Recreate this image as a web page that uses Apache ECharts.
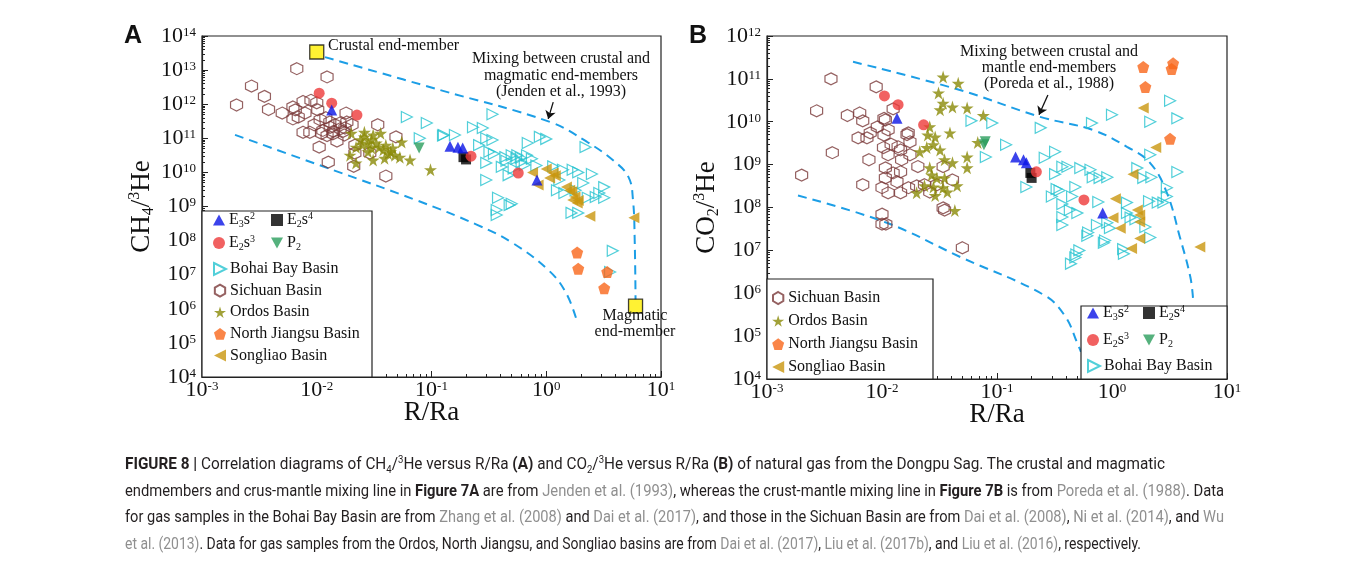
<!DOCTYPE html>
<html>
<head>
<meta charset="utf-8">
<script src="https://cdn.jsdelivr.net/npm/echarts@6/dist/echarts.min.js"></script>
<style>
  body { margin: 0; background: #fff; }
  #main { position: absolute; left: 0; top: 0; width: 1355px; height: 562px; }
  #cap { position: absolute; left: 125px; top: 451px; color: #231f20;
         font-family: 'Liberation Sans Narrow', 'Roboto', 'Liberation Sans', Arial, sans-serif;
         font-size: 16px; line-height: 26.6px; }
  #cap div { white-space: nowrap; transform-origin: 0 50%; display: block; width: max-content; }
  #cap .g { color: #8f8f8f; }
  #cap sub, #cap sup { font-size: 10px; line-height: 0; }
</style>
</head>
<body>
<div id="main"></div>
<div id="cap">
  <div data-w="1040"><b>FIGURE 8 |</b> Correlation diagrams of CH<sub>4</sub>/<sup>3</sup>He versus R/Ra <b>(A)</b> and CO<sub>2</sub>/<sup>3</sup>He versus R/Ra <b>(B)</b> of natural gas from the Dongpu Sag. The crustal and magmatic</div>
  <div data-w="1099">endmembers and crus-mantle mixing line in <b>Figure 7A</b> are from <span class="g">Jenden et al. (1993)</span>, whereas the crust-mantle mixing line in <b>Figure 7B</b> is from <span class="g">Poreda et al. (1988)</span>. Data</div>
  <div data-w="1099">for gas samples in the Bohai Bay Basin are from <span class="g">Zhang et al. (2008)</span> and <span class="g">Dai et al. (2017)</span>, and those in the Sichuan Basin are from <span class="g">Dai et al. (2008)</span>, <span class="g">Ni et al. (2014)</span>, and <span class="g">Wu</span></div>
  <div data-w="1016"><span class="g">et al. (2013)</span>. Data for gas samples from the Ordos, North Jiangsu, and Songliao basins are from <span class="g">Dai et al. (2017)</span>, <span class="g">Liu et al. (2017b)</span>, and <span class="g">Liu et al. (2016)</span>, respectively.</div>
</div>
<script>
// ---- panel A : CH4/3He vs R/Ra, points are [R/Ra, CH4/3He]
var A_E3s2 = [[0.0135, 6.8e11], [0.145, 5.8e10], [0.17, 5.5e10], [0.187, 5.2e10], [0.83, 6e9]];
var A_E2s4 = [[0.19, 2.8e10], [0.2, 2.4e10]];
var A_E2s3 = [[0.0105, 2.1e12], [0.0135, 1.07e12], [0.0224, 4.8e11], [0.221, 3e10], [0.57, 9.6e9]];
var A_P2 = [[0.078, 5.2e10]];
var A_bohai = [
  [0.061, 4.2e11], [0.091, 2.8e11], [0.079, 1e11], [0.128, 1.25e11], [0.16, 1.25e11], [0.126, 1.2e11],
  [0.34, 5.1e11], [0.23, 2.1e11], [0.28, 2e11], [0.30, 1e11], [0.34, 8.9e10], [0.26, 6.3e10], [0.32, 4e10],
  [0.30, 1.9e10], [0.44, 2.8e10], [0.41, 1.45e10], [0.50, 3.2e10], [0.56, 3.2e10], [0.68, 3.2e10],
  [0.61, 2e10], [0.65, 1.65e10], [0.47, 8.3e9], [0.30, 6e9], [0.38, 1.8e9], [0.48, 1.1e9], [0.37, 7.9e8],
  [0.37, 5.6e8], [0.69, 7.3e10], [0.88, 1.1e11], [1.0, 9.6e10], [2.2, 5.5e10], [1.4, 1.2e10], [1.7, 1.2e10],
  [1.9, 1e10], [1.24, 3e9], [1.44, 2.5e9], [2.1, 4.9e9], [3.2, 3.7e9], [2.3, 1.8e9], [2.7, 1.9e9],
  [3.2, 1.8e9], [1.66, 6.5e8], [1.9, 6.5e8], [3.8, 5e7], [3.6, 1.2e7], [0.45, 2.2e10], [0.55, 2.5e10],
  [0.6, 2.7e10], [0.35, 3.5e10], [0.52, 1.3e10], [0.75, 2.5e10], [0.82, 1.6e10], [1.15, 1.5e10],
  [1.3, 6e9], [2.5, 9e9], [1.8, 3e9], [2.9, 2.5e9], [0.5, 1.2e9]
];
var A_sichuan = [
  [0.0020, 9.5e11], [0.0027, 3.4e12], [0.0035, 1.7e12], [0.0038, 7e11], [0.005, 5.5e11], [0.0062, 3.7e11],
  [0.0067, 1.1e13], [0.0123, 6.3e12], [0.0062, 8.3e11], [0.0076, 1.2e12], [0.0089, 1.3e12], [0.010, 1.1e12],
  [0.0079, 5.5e11], [0.0102, 6.8e11], [0.0076, 1.5e11], [0.0087, 1.5e11], [0.0107, 3.5e11], [0.0113, 1.7e11],
  [0.0131, 2.1e11], [0.0144, 2.5e11], [0.0159, 2.8e11], [0.0183, 3e11], [0.0176, 2e11], [0.0138, 1.35e11],
  [0.0123, 1.2e11], [0.015, 8.3e10], [0.0174, 1.25e11], [0.0203, 2.5e11], [0.018, 5.5e11], [0.0105, 5.5e10],
  [0.0126, 2e10], [0.021, 1.5e10], [0.0215, 3.7e10], [0.029, 3.7e10], [0.034, 2.5e11], [0.040, 7.8e9],
  [0.0215, 6.3e10], [0.0069, 4.2e11], [0.0065, 6.8e11], [0.012, 4e11], [0.014, 1.6e11], [0.016, 1.9e11],
  [0.0095, 2.5e11], [0.011, 1.4e11], [0.017, 1.6e11], [0.013, 3e11], [0.049, 1.1e11]
];
var A_ordos = [
  [0.020, 1.4e11], [0.026, 1.5e11], [0.031, 1.25e11], [0.036, 1.4e11], [0.024, 9e10], [0.028, 7.3e10],
  [0.033, 7.3e10], [0.040, 6.3e10], [0.046, 5.2e10], [0.055, 7.8e10], [0.053, 2.8e10], [0.065, 2.3e10],
  [0.039, 2.6e10], [0.031, 2.3e10], [0.028, 4e10], [0.0195, 3.2e10], [0.022, 1.9e10], [0.098, 1.2e10],
  [0.022, 5.5e10], [0.044, 4e10], [0.048, 3.2e10], [0.038, 4.6e10], [0.030, 5.2e10], [0.026, 1.1e11],
  [0.035, 5.5e10], [0.042, 3.5e10], [0.025, 6.5e10], [0.03, 9e10]
];
var A_njiangsu = [[1.86, 4.5e7], [1.9, 1.5e7], [3.4, 1.2e7], [3.2, 4e6]];
var A_songliao = [
  [0.76, 1e10], [1.0, 1.25e10], [1.15, 9.6e9], [0.85, 4.3e9], [1.5, 3.7e9], [1.67, 2.7e9], [1.78, 1.9e9],
  [1.86, 1.26e9], [1.7, 1.55e9], [2.4, 5.2e8], [5.8, 4.7e8], [1.07, 6.9e9], [1.2, 8e9], [1.6, 3e9], [1.9, 1.5e9]
];
var A_endMembers = [[0.010, 3.4e13], [6.0, 1.2e6]];
// Jenden et al. (1993) mixing envelope
var A_upperR = [0.0118, 0.119, 1.08, 2.27, 3.8, 5.2, 5.7, 5.9, 6.0];
var A_upperCH4 = [2.4e13, 2.6e12, 3e11, 7.8e10, 2.3e10, 7.4e9, 1.55e9, 1e8, 1.8e6];
var A_lowerR = [0.00194, 0.0139, 0.073, 0.25, 0.51, 1.06, 1.49, 1.85];
var A_lowerCH4 = [1.26e11, 1.17e10, 1.55e9, 2.9e8, 8.5e7, 1.3e7, 2.9e6, 4.4e5];

// ---- panel B : CO2/3He vs R/Ra
var B_E3s2 = [[0.0135, 1.2e10], [0.145, 1.5e9], [0.17, 1.3e9], [0.18, 1.1e9], [0.83, 7.4e7]];
var B_E2s4 = [[0.195, 6.4e8], [0.2, 4.9e8]];
var B_E2s3 = [[0.0105, 4e10], [0.0138, 2.5e10], [0.023, 8.5e9], [0.22, 6.8e8], [0.57, 1.5e8]];
var B_P2 = [[0.079, 3.4e9], [0.077, 2.9e9]];
var B_bohai = [
  [0.060, 1.05e10], [0.091, 9.3e9], [0.080, 1.5e9], [0.12, 2.9e9], [0.24, 7.2e9], [0.67, 9.3e9], [1.0, 1.45e10],
  [2.15, 1e10], [3.2, 3.1e10], [3.7, 1.2e10], [0.26, 1.45e9], [0.32, 2e9], [0.32, 6e8], [0.37, 8.9e8],
  [0.41, 8.9e8], [0.53, 8.3e8], [0.65, 7.6e8], [0.68, 5.1e8], [0.78, 4.9e8], [0.91, 5.1e8], [1.66, 8.3e8],
  [1.87, 4.9e8], [2.2, 5.1e8], [2.15, 1.7e9], [3.7, 6.7e8], [3.0, 2.9e8], [2.8, 1.3e8], [0.18, 3e8],
  [0.33, 2.7e8], [0.35, 2.5e8], [0.30, 1.8e8], [0.45, 1.8e8], [0.48, 3e8], [0.37, 1.2e8], [0.43, 8.7e7],
  [0.50, 7.4e7], [0.37, 6e7], [0.37, 3.9e7], [0.76, 1.35e8], [1.35, 1.3e8], [1.35, 7.4e7], [0.91, 4.4e7],
  [0.74, 3.9e7], [0.62, 2.6e7], [0.61, 2.2e7], [0.87, 1.7e7], [1.25, 1.07e7], [0.52, 1e7], [0.48, 6.8e6],
  [0.96, 3.3e7], [1.95, 3.5e7], [2.15, 2e7], [3.0, 1.8e8], [0.49, 8e6], [0.44, 4.9e6], [1.27, 8.3e6],
  [0.85, 1.5e7], [1.45, 5.8e7], [1.6, 5.3e7], [2.5, 1.3e8], [2.1, 1.4e8]
];
var B_sichuan = [
  [0.0036, 1e11], [0.0027, 1.8e10], [0.0050, 1.4e10], [0.0064, 1.6e10], [0.0068, 1.05e10], [0.0089, 6.5e10],
  [0.0125, 2e10], [0.0037, 1.9e9], [0.0020, 5.7e8], [0.0068, 3.4e8], [0.0077, 1.3e9], [0.0062, 4.2e9],
  [0.0079, 5.5e9], [0.0091, 7.6e9], [0.0107, 1.1e10], [0.0104, 4.9e9], [0.0113, 6.5e9], [0.0103, 2.5e9],
  [0.0113, 1.7e9], [0.0138, 2.6e9], [0.0169, 5.5e9], [0.0175, 3.4e9], [0.0175, 1.7e9], [0.0148, 1.3e9],
  [0.0107, 8.4e8], [0.0125, 6.4e8], [0.0145, 6.8e8], [0.0107, 4.9e8], [0.0135, 4e8], [0.010, 2.9e8],
  [0.0113, 2.2e8], [0.0145, 2.2e8], [0.017, 2.9e8], [0.020, 3.2e8], [0.0205, 9e8], [0.034, 9e8],
  [0.041, 4.4e8], [0.034, 9.8e7], [0.010, 7e7], [0.010, 4.1e7], [0.0108, 4.1e7], [0.035, 8.7e7],
  [0.050, 1.15e7], [0.0104, 1.2e10], [0.0074, 4.2e9], [0.0145, 2.2e9], [0.0234, 3.4e8], [0.030, 3.4e8],
  [0.026, 2.3e8], [0.0165, 5e9], [0.012, 3e9]
];
var B_ordos = [
  [0.034, 1.1e11], [0.046, 7.9e10], [0.031, 4.7e10], [0.034, 2.7e10], [0.041, 2.2e10], [0.032, 1.9e10],
  [0.055, 2.1e10], [0.076, 1.4e10], [0.026, 7.6e9], [0.025, 4.9e9], [0.029, 4.4e9], [0.039, 5.5e9],
  [0.028, 2.9e9], [0.0245, 2.5e9], [0.0213, 2e9], [0.032, 2.2e9], [0.068, 3.3e9], [0.035, 1.3e9],
  [0.041, 1.1e9], [0.055, 1.5e9], [0.055, 8.4e8], [0.026, 8.4e8], [0.027, 5.7e8], [0.03, 4.9e8],
  [0.035, 4.9e8], [0.045, 3.2e8], [0.0234, 3.2e8], [0.028, 3e8], [0.034, 2.9e8], [0.037, 2.3e8],
  [0.020, 2.2e8], [0.029, 1.9e8], [0.043, 8.5e7]
];
var B_njiangsu = [[1.87, 1.9e11], [1.95, 6.5e10], [3.4, 2.3e11], [3.3, 1.7e11], [3.2, 4e9]];
var B_songliao = [
  [1.87, 2.1e10], [2.4, 2.5e9], [1.52, 6e8], [1.07, 1.6e8], [1.02, 5.8e7], [1.66, 8.7e7], [1.74, 6.7e7],
  [1.74, 4.6e7], [1.18, 3.3e7], [1.74, 1.9e7], [1.48, 1.1e7], [5.8, 1.2e7]
];
// Poreda et al. (1988) mixing envelope
var B_upperR = [0.0056, 0.0476, 0.237, 0.684, 1.35, 2.14, 3.0, 3.9, 4.8, 5.06];
var B_upperCO2 = [2.5e11, 5.5e10, 1.3e10, 6.4e9, 2.6e9, 1.1e9, 2.2e8, 2e7, 2.4e6, 7.8e5];
var B_lowerR = [0.00186, 0.011, 0.048, 0.256, 0.39, 0.506, 0.537];
var B_lowerCO2 = [1.9e8, 4.4e7, 7e6, 9.1e5, 2.95e5, 6.3e4, 4.3e4];

var SERIF = "'Times New Roman', 'Liberation Serif', serif";
var HEX = 'path://M50,0 L93,25 L93,75 L50,100 L7,75 L7,25 Z';
var STAR = 'path://M50,0 L61,35 L98,35 L68,57 L79,91 L50,70 L21,91 L32,57 L2,35 L39,35 Z';
var PENT = 'path://M50,0 L98,36 L80,94 L20,94 L2,36 Z';
var TRI_R = 'path://M0,0 L100,50 L0,100 Z';
var TRI_L = 'path://M100,0 L0,50 L100,100 Z';
var TRI_D = 'path://M0,0 L100,0 L50,90 Z';
var TRI_U = 'path://M50,0 L100,90 L0,90 Z';

var styles = {
  'E3s2': { symbol: TRI_U, size: 11, itemStyle: { color: '#0a14e6' } },
  'E2s4': { symbol: 'rect', size: 10, itemStyle: { color: '#000' } },
  'E2s3': { symbol: 'circle', size: 11, itemStyle: { color: '#ee3a3a' } },
  'P2': { symbol: TRI_D, size: 11, itemStyle: { color: '#2a9d5c' } },
  'Bohai Bay Basin': { symbol: TRI_R, size: 11, itemStyle: { color: 'rgba(255,255,255,0)', borderColor: '#25c3cf', borderWidth: 1.2 } },
  'Sichuan Basin': { symbol: HEX, size: 12, itemStyle: { color: 'rgba(255,255,255,0)', borderColor: '#7b3a3a', borderWidth: 1.2 } },
  'Ordos Basin': { symbol: STAR, size: 13, itemStyle: { color: '#8a8a06' } },
  'North Jiangsu Basin': { symbol: PENT, size: 12, itemStyle: { color: '#f9661a' } },
  'Songliao Basin': { symbol: TRI_L, size: 11, itemStyle: { color: '#c9960e' } }
};

function scatter(name, data, idx) {
  var s = styles[name];
  return {
    type: 'scatter', name: name, xAxisIndex: idx, yAxisIndex: idx, data: data,
    symbol: s.symbol, symbolSize: s.size, itemStyle: s.itemStyle, z: 3
  };
}

function curve(xs, ys, idx, arrow) {
  var d = xs.map(function (x, i) { return [x, ys[i]]; });
  var s = {
    type: 'line', xAxisIndex: idx, yAxisIndex: idx, data: d, smooth: 0.4, symbol: 'none', silent: true,
    lineStyle: { color: '#1c9ee6', width: 2, type: [9, 6] }, z: 2
  };
  if (arrow) {
    s.markLine = {
      silent: true, symbol: ['none', 'arrow'], symbolSize: 8, label: { show: false },
      lineStyle: { color: '#111', width: 1.3, type: 'solid' },
      data: [[{ coord: arrow[0] }, { coord: arrow[1] }]]
    };
  }
  return s;
}

var richText = {
  n: { fontFamily: SERIF, fontSize: 16, color: '#111', lineHeight: 18 },
  sub: { fontFamily: SERIF, fontSize: 10, color: '#111', verticalAlign: 'bottom', lineHeight: 10 },
  sup: { fontFamily: SERIF, fontSize: 10, color: '#111', verticalAlign: 'top', lineHeight: 10 }
};
var legendNames = {
  'E3s2': '{n|E}{sub|3}{n|s}{sup|2}',
  'E2s4': '{n|E}{sub|2}{n|s}{sup|4}',
  'E2s3': '{n|E}{sub|2}{n|s}{sup|3}',
  'P2': '{n|P}{sub|2}'
};
function legend(names, left, top, orient, gap) {
  return {
    data: names, left: left, top: top, orient: orient, itemGap: gap, itemWidth: 12, itemHeight: 12,
    selectedMode: false, padding: 0, z: 10,
    formatter: function (n) { return legendNames[n] || '{n|' + n + '}'; },
    textStyle: { rich: richText, padding: [0, 0, 0, -1] }
  };
}

function powLabel(v) {
  var e = Math.round(Math.log10(v));
  return '{b|10}{s|' + e + '}';
}
var axisRich = {
  b: { fontFamily: SERIF, fontSize: 22, color: '#111', lineHeight: 20 },
  s: { fontFamily: SERIF, fontSize: 13, color: '#111', verticalAlign: 'top', lineHeight: 12 }
};
function xAxis(idx) {
  return {
    type: 'log', logBase: 10, gridIndex: idx, min: 0.001, max: 10, interval: 1,
    name: 'R/Ra', nameLocation: 'middle', nameGap: 22, nameMoveOverlap: false,
    nameTextStyle: { fontFamily: SERIF, fontSize: 27, color: '#111' },
    axisLine: { lineStyle: { color: '#222', width: 1.2 } },
    axisTick: { inside: true, length: 6, lineStyle: { color: '#222' } },
    minorTick: { show: true, splitNumber: 9, length: 3, lineStyle: { color: '#222' } },
    splitLine: { show: false },
    axisLabel: { formatter: powLabel, rich: axisRich, margin: 3, interval: 0, hideOverlap: false }
  };
}
function yAxis(idx, max, gasName) {
  return {
    type: 'log', logBase: 10, gridIndex: idx, min: 1e4, max: max, interval: 1,
    name: gasName, nameLocation: 'middle', nameGap: 40, nameRotate: 90,
    nameTextStyle: {
      rich: {
        n: { fontFamily: SERIF, fontSize: 27, color: '#111', lineHeight: 30 },
        sub: { fontFamily: SERIF, fontSize: 16, color: '#111', verticalAlign: 'bottom', lineHeight: 16 },
        sup: { fontFamily: SERIF, fontSize: 16, color: '#111', verticalAlign: 'top', lineHeight: 16 }
      }
    },
    axisLine: { lineStyle: { color: '#222', width: 1.2 } },
    axisTick: { inside: true, length: 6, lineStyle: { color: '#222' } },
    minorTick: { show: true, splitNumber: 9, length: 3, lineStyle: { color: '#222' } },
    splitLine: { show: false },
    axisLabel: { formatter: powLabel, rich: axisRich, margin: 6, interval: 0, hideOverlap: false }
  };
}

var namesA = ['E3s2', 'E2s4', 'E2s3', 'P2', 'Bohai Bay Basin', 'Sichuan Basin', 'Ordos Basin', 'North Jiangsu Basin', 'Songliao Basin'];

var series = [
  curve(A_upperR, A_upperCH4, 0, [[1.15, 1.15e12], [1.04, 3.7e11]]),
  curve(A_lowerR, A_lowerCH4, 0),
  scatter('Sichuan Basin', A_sichuan, 0),
  scatter('Ordos Basin', A_ordos, 0),
  scatter('Bohai Bay Basin', A_bohai, 0),
  scatter('Songliao Basin', A_songliao, 0),
  scatter('North Jiangsu Basin', A_njiangsu, 0),
  scatter('P2', A_P2, 0),
  scatter('E2s4', A_E2s4, 0),
  scatter('E2s3', A_E2s3, 0),
  scatter('E3s2', A_E3s2, 0),
  {
    type: 'scatter', xAxisIndex: 0, yAxisIndex: 0, data: A_endMembers, symbol: 'rect', symbolSize: 14,
    itemStyle: { color: '#ffef00', borderColor: '#111', borderWidth: 1.3 }, z: 4
  },
  curve(B_upperR, B_upperCO2, 1, [[0.277, 4.2e10], [0.232, 1.45e10]]),
  curve(B_lowerR, B_lowerCO2, 1),
  scatter('Sichuan Basin', B_sichuan, 1),
  scatter('Ordos Basin', B_ordos, 1),
  scatter('Bohai Bay Basin', B_bohai, 1),
  scatter('Songliao Basin', B_songliao, 1),
  scatter('North Jiangsu Basin', B_njiangsu, 1),
  scatter('P2', B_P2, 1),
  scatter('E2s4', B_E2s4, 1),
  scatter('E2s3', B_E2s3, 1),
  scatter('E3s2', B_E3s2, 1)
];

var noteFont = '16px ' + SERIF;
var option = {
  animation: false,
  backgroundColor: '#fff',
  grid: [
    { left: 202, top: 36, width: 459, height: 341, show: true, borderColor: '#222', borderWidth: 1.2 },
    { left: 767, top: 36, width: 460, height: 343, show: true, borderColor: '#222', borderWidth: 1.2 }
  ],
  xAxis: [xAxis(0), xAxis(1)],
  yAxis: [
    yAxis(0, 1e14, '{n|CH}{sub|4}{n|/}{sup|3}{n|He}'),
    yAxis(1, 1e12, '{n|CO}{sub|2}{n|/}{sup|3}{n|He}')
  ],
  legend: [
    legend(['E3s2', 'E2s4'], 213, 211, 'horizontal', 16),
    legend(['E2s3', 'P2'], 213, 234, 'horizontal', 16),
    legend(namesA.slice(4), 213, 261, 'vertical', 5.6),
    legend(namesA.slice(5), 772, 290, 'vertical', 7),
    legend(['E3s2', 'E2s4'], 1087, 304, 'horizontal', 14),
    legend(['E2s3', 'P2'], 1087, 331, 'horizontal', 14),
    legend(['Bohai Bay Basin'], 1087, 358, 'horizontal', 10)
  ],
  graphic: [
    { type: 'rect', shape: { x: 202, y: 211, width: 170, height: 166 }, style: { fill: '#fff', stroke: '#222', lineWidth: 1.2 }, z: 5, silent: true },
    { type: 'rect', shape: { x: 767, y: 279, width: 166, height: 100 }, style: { fill: '#fff', stroke: '#222', lineWidth: 1.2 }, z: 5, silent: true },
    { type: 'rect', shape: { x: 1081, y: 306, width: 146, height: 73 }, style: { fill: '#fff', stroke: '#222', lineWidth: 1.2 }, z: 5, silent: true },
    { type: 'text', left: 124, top: 24, style: { text: 'A', font: 'bold 25px Arial, "Liberation Sans", sans-serif', fill: '#111' }, z: 6 },
    { type: 'text', left: 689, top: 24, style: { text: 'B', font: 'bold 25px Arial, "Liberation Sans", sans-serif', fill: '#111' }, z: 6 },
    { type: 'text', x: 328, y: 38, style: { text: 'Crustal end-member', font: noteFont, fill: '#111' }, z: 6 },
    { type: 'text', x: 561, y: 51, style: { text: 'Mixing between crustal and\nmagmatic end-members\n(Jenden et al., 1993)', font: noteFont, fill: '#111', textAlign: 'center', lineHeight: 16.5 }, z: 6 },
    { type: 'text', x: 635, y: 308, style: { text: 'Magmatic\nend-member', font: noteFont, fill: '#111', textAlign: 'center', lineHeight: 16 }, z: 6 },
    { type: 'text', x: 1049, y: 44, style: { text: 'Mixing between crustal and\nmantle end-members\n(Poreda et al., 1988)', font: noteFont, fill: '#111', textAlign: 'center', lineHeight: 16 }, z: 6 }
  ],
  series: series
};

var chart = echarts.init(document.getElementById('main'), null, { renderer: 'canvas' });
chart.setOption(option);

// fit each caption line to the width it has in the printed figure
Array.prototype.forEach.call(document.querySelectorAll('#cap div'), function (el) {
  var w = el.getBoundingClientRect().width;
  var target = +el.getAttribute('data-w');
  el.style.transform = 'scaleX(' + (target / w).toFixed(4) + ')';
});
</script>
</body>
</html>
